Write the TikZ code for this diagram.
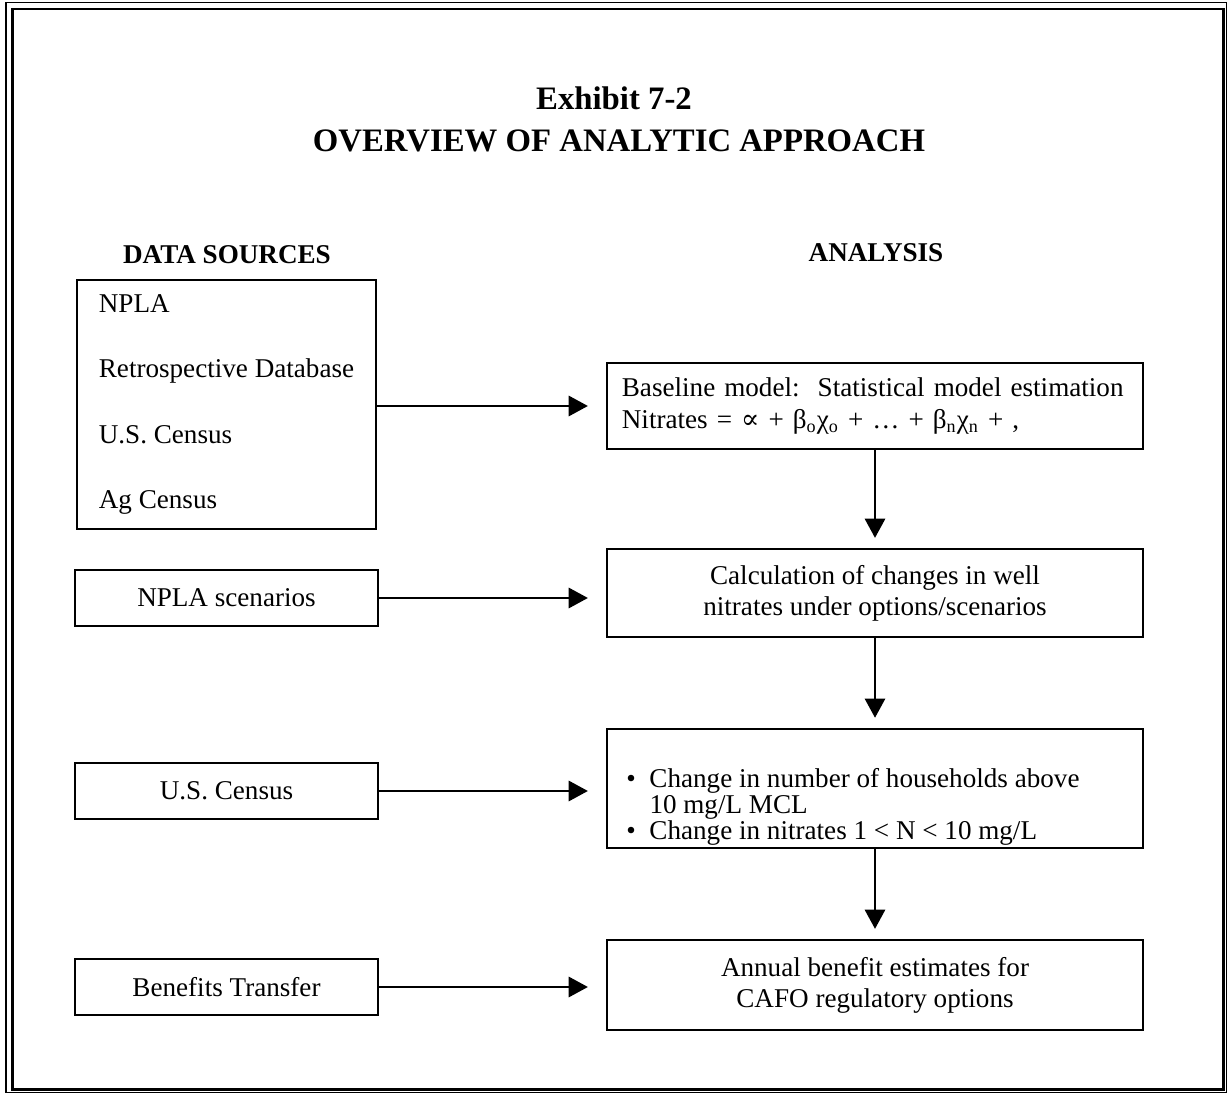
\documentclass[tikz,border=0pt]{standalone}
\usepackage{fontspec}
\setmainfont{Liberation Serif}
\newfontfamily\symfont{DejaVu Serif}
\usetikzlibrary{arrows.meta}

\begin{document}
\begin{tikzpicture}[x=0.4425pt,y=-0.4425pt,>={Triangle[length=8.5pt,width=9pt]},
  box/.style={draw,line width=0.9pt,inner sep=0pt,minimum width=237.2pt,font=\fontsize{12}{13.8}\selectfont},
  srcbox/.style={draw,line width=0.9pt,inner sep=0pt,minimum width=134pt,minimum height=25pt,font=\fontsize{12}{13.8}\selectfont},
  head/.style={font=\fontsize{12}{14}\selectfont\bfseries},
  title/.style={font=\fontsize{14.5}{16}\selectfont\bfseries},
  flow/.style={->,line width=0.9pt,shorten >=8pt}]
\useasboundingbox (0,0) rectangle (1229,1095);
% frame
\draw[line width=0.5pt] (6,2.5) rectangle (1226.5,1092.5);
\draw[line width=1.3pt] (12.5,9) rectangle (1223.5,1089.5);
% titles
\node[title] (exhibit) at (614,98) {Exhibit 7-2};
\node[title] (overview) at (619,141) {OVERVIEW OF ANALYTIC APPROACH};
\node[head] (srchead) at (227,255) {DATA SOURCES};
\node[head] (anahead) at (876,253) {ANALYSIS};
% data sources
\node[srcbox,minimum width=132.3pt,minimum height=110.2pt,align=left,font=\fontsize{12}{28.8}\selectfont] (sources) at (226.5,404.5)
  {NPLA\\Retrospective Database\\U.S. Census\\Ag Census};
\node[srcbox] (scen) at (226.5,598) {NPLA scenarios};
\node[srcbox] (census) at (226.5,791) {U.S. Census};
\node[srcbox] (transfer) at (226.5,987) {Benefits Transfer};
% analysis
\node[box,minimum height=38.1pt,align=left,text width=224pt,inner xsep=6.6pt] (baseline) at (875,406)
  {Baseline model:~~Statistical model estimation\\
   Nitrates = {\symfont ∝} + β\textsubscript{o}χ\textsubscript{o} + … + β\textsubscript{n}χ\textsubscript{n} + ,};
\node[box,minimum height=38.9pt,align=center] (calc) at (875,593)
  {Calculation of changes in well\\nitrates under options/scenarios};
\node[box,minimum height=52.7pt] (house) at (875,788.5) {};
\node[anchor=north west,inner sep=0pt,align=left,font=\fontsize{12}{11.6}\selectfont] (housetext) at (626,768)
  {\makebox[10.2pt][l]{\textbullet}Change in number of households above\\
   \hspace*{10.2pt}10 mg/L MCL\\
   \makebox[10.2pt][l]{\textbullet}Change in nitrates 1 < N < 10 mg/L};
\node[box,minimum height=39.8pt,align=center] (annual) at (875,985)
  {Annual benefit estimates for\\CAFO regulatory options};
% arrows
\draw[flow] (sources.east |- baseline.west) -- (baseline.west);
\draw[flow] (scen.east) -- (scen.east -| calc.west);
\draw[flow] (census.east) -- (census.east -| house.west);
\draw[flow] (transfer.east) -- (transfer.east -| annual.west);
\draw[flow,shorten >=4.5pt] (baseline) -- (calc);
\draw[flow,shorten >=4.5pt] (calc) -- (house);
\draw[flow,shorten >=4.5pt] (house) -- (annual);
\end{tikzpicture}
\end{document}
